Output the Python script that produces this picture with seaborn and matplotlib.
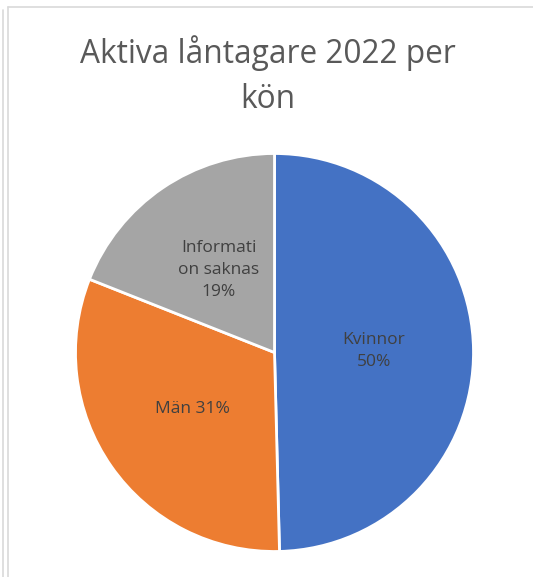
import matplotlib
matplotlib.use('Agg')
import matplotlib.pyplot as plt
from matplotlib.lines import Line2D
import seaborn as sns

# Data
categories = ['Kvinnor', 'Män', 'Informati\non saknas']
shares = [49.6, 31.4, 19.0]
pct_labels = ['50%', '31%', '19%']
colors = ['#4472C4', '#ED7D31', '#A5A5A5']
title_lines = ['Aktiva låntagare 2022 per', 'kön']

sns.set_style('white')
plt.rcParams['font.family'] = ['Open Sans', 'DejaVu Sans']

W, H = 533, 577
fig = plt.figure(figsize=(W / 100, H / 100), dpi=100)

# pie centre and radius in pixels
cx, cy, r = 274.5, 352.5, 199
ax = fig.add_axes([(cx - r) / W, (H - cy - r) / H, 2 * r / W, 2 * r / H])

labels = []
for cat, pct in zip(categories, pct_labels):
    if cat == 'Män':
        labels.append(f'{cat} {pct}')
    else:
        labels.append(f'{cat}\n{pct}')

wedges, texts = ax.pie(shares, colors=colors, labels=labels, startangle=90,
                       counterclock=False, labeldistance=0.5,
                       wedgeprops=dict(edgecolor='white', linewidth=2),
                       textprops=dict(color='#404040', fontsize=12.5,
                                      linespacing=1.5))
for t in texts:
    t.set_ha('center')
    t.set_va('center')
ax.set_xlim(-1, 1)
ax.set_ylim(-1, 1)
ax.set_aspect('equal')

# title, one text per line so the baselines match
for line, base in zip(title_lines, [63, 108]):
    fig.text(267.5 / W, 1 - base / H, line, ha='center', va='baseline',
             fontsize=22.8, color='#595959')

# chart frame lines (light gray)
fc = '#D9D9D9'
fig.add_artist(Line2D([2.5 / W, 2.5 / W], [0, 1 - 10 / H], color=fc, lw=1.2,
                      transform=fig.transFigure))
fig.add_artist(Line2D([7.5 / W, 7.5 / W], [0, 1 - 6.5 / H], color=fc, lw=1.2,
                      transform=fig.transFigure))
fig.add_artist(Line2D([7.5 / W, 1], [1 - 6.5 / H, 1 - 6.5 / H], color=fc, lw=1.2,
                      transform=fig.transFigure))

fig.savefig('out.png', dpi=100)
